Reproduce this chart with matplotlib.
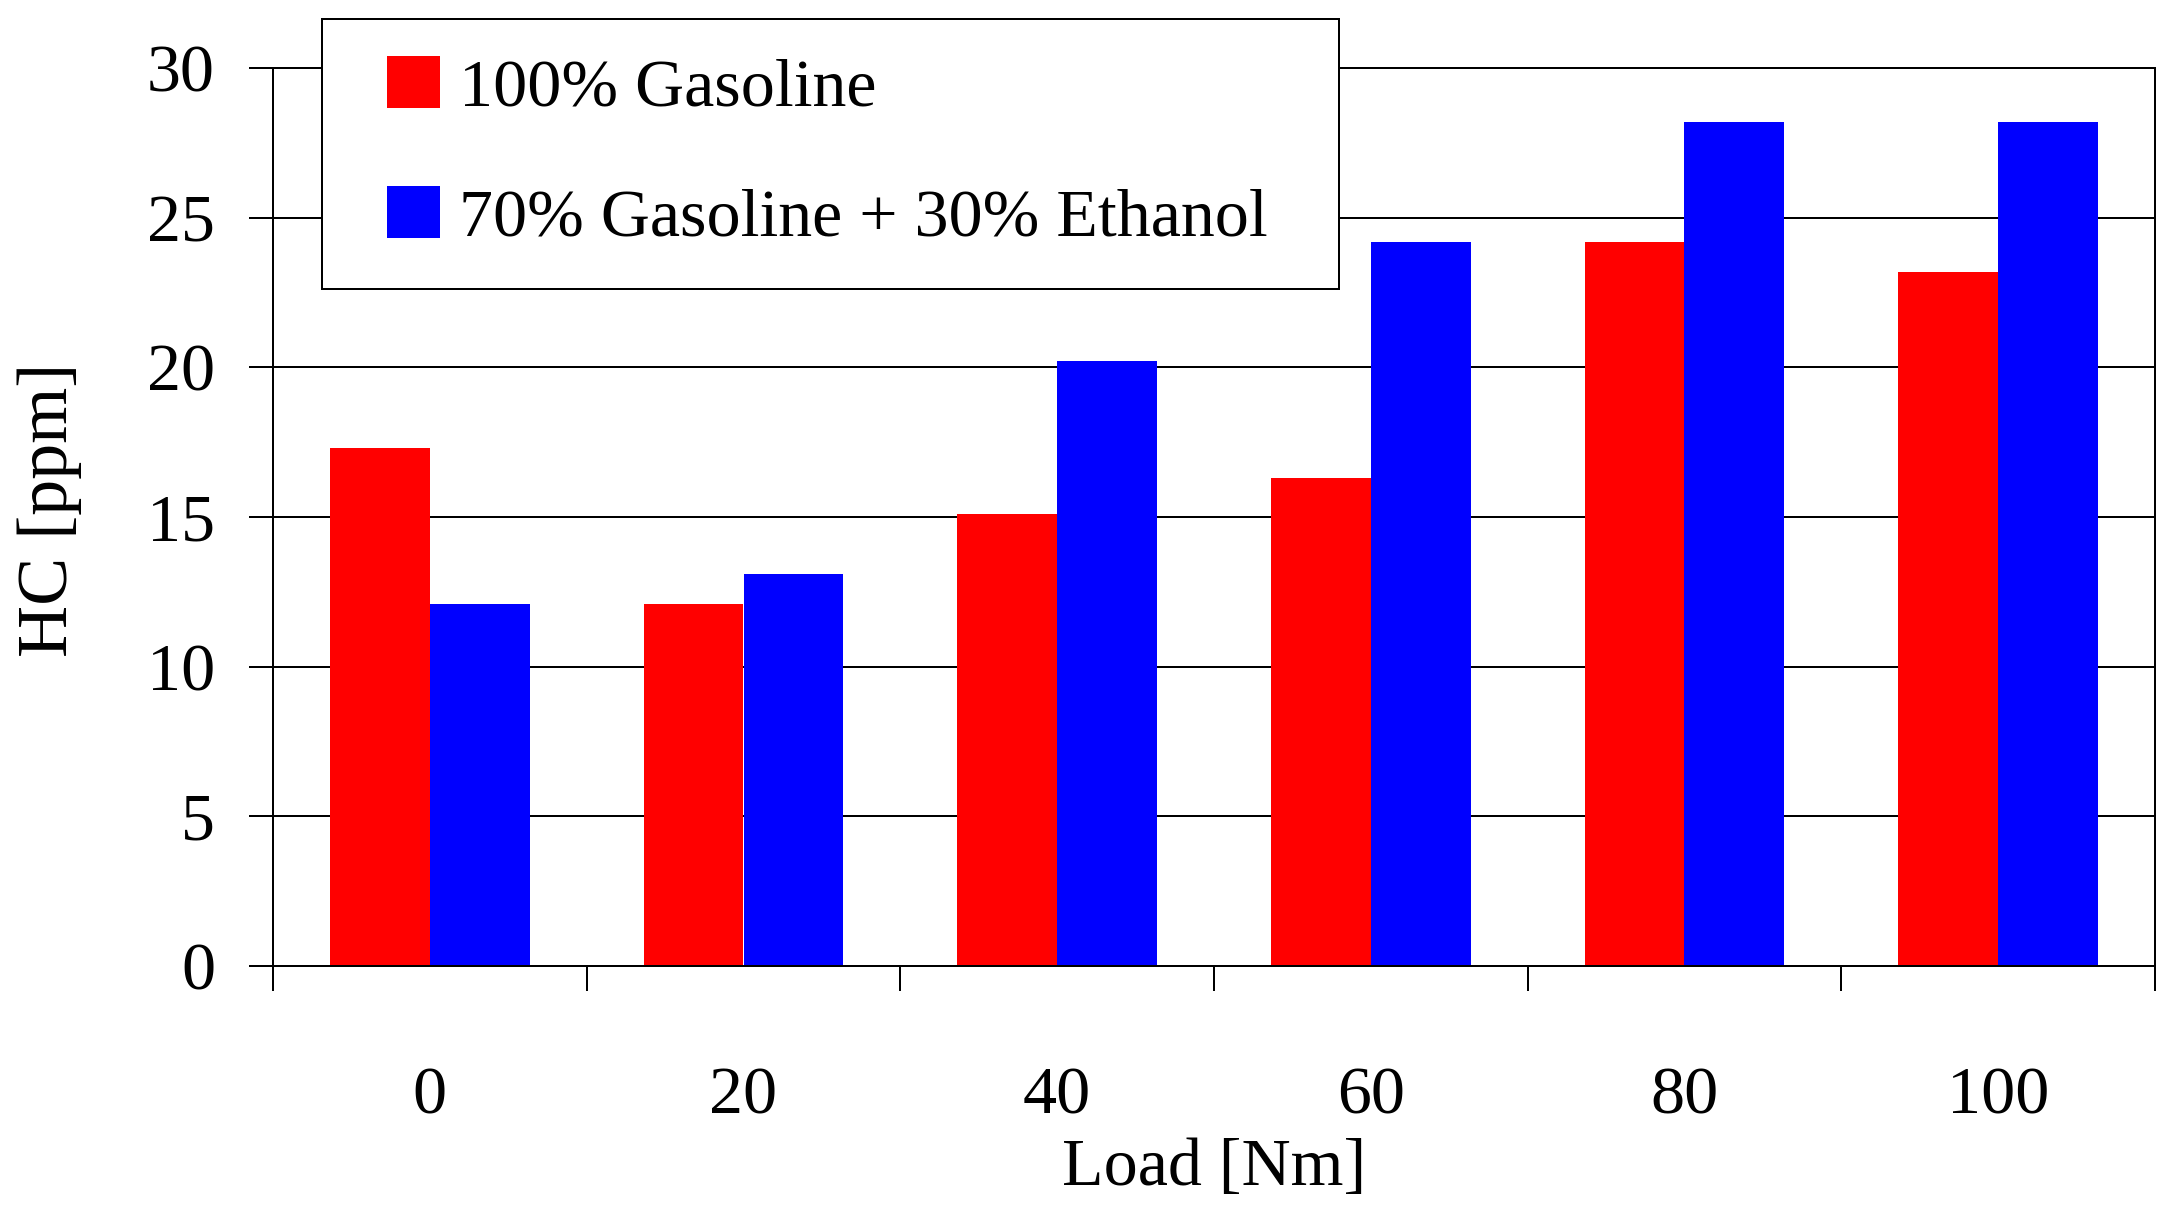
import matplotlib
matplotlib.use("Agg")
import matplotlib.pyplot as plt
from matplotlib.patches import Rectangle
import numpy as np

loads = ["0", "20", "40", "60", "80", "100"]
gasoline = [17.3, 12.1, 15.1, 16.3, 24.2, 23.2]
blend = [12.1, 13.1, 20.2, 24.2, 28.2, 28.2]
series_names = ["100% Gasoline", "70% Gasoline + 30% Ethanol"]
yticks = [0, 5, 10, 15, 20, 25, 30]

W, H = 2176, 1215
DPI = 72
plt.rcParams['font.family'] = ['Liberation Serif', 'DejaVu Serif']
fs = 68

fig = plt.figure(figsize=(W / DPI, H / DPI), dpi=DPI)
ax = fig.add_axes([273 / W, 1 - 966 / H, (2155 - 273) / W, (966 - 68) / H])

x = np.arange(len(loads))
w = 0.318
ax.bar(x - w / 2, gasoline, width=w, color="#FF0000", label=series_names[0], zorder=2)
ax.bar(x + w / 2, blend, width=w, color="#0000FF", label=series_names[1], zorder=2)

ax.set_xlim(-0.5, len(loads) - 0.5)
ax.set_ylim(0, 30)
ax.set_yticks(yticks)
ax.set_yticklabels([str(v) for v in yticks])
ax.set_xticks(x)
ax.set_xticklabels(loads)
ax.set_xticks(np.arange(len(loads) + 1) - 0.5, minor=True)

ax.tick_params(axis='x', which='major', length=0, pad=101, labelsize=fs)
ax.tick_params(axis='x', which='minor', length=25, width=2, direction='out')
ax.tick_params(axis='y', which='major', length=24, width=2, direction='out', pad=34, labelsize=fs)

ax.yaxis.grid(True, color='black', linewidth=2)
ax.set_axisbelow(True)
for s in ax.spines.values():
    s.set_color('black')
    s.set_linewidth(2)

fig.text(0.5 * (273 + 2155) / W, 1 - 1168 / H, "Load [Nm]", ha='center', va='center', fontsize=fs)
fig.text(49 / W, 1 - 510 / H, "HC [ppm]", ha='center', va='center', rotation=90, fontsize=fs + 4)

# legend frame
frame = Rectangle((322 / W, 1 - 289 / H), (1339 - 322) / W, (289 - 19) / H,
                  transform=fig.transFigure, facecolor='white', edgecolor='black',
                  linewidth=2, zorder=3, clip_on=False)
ax.add_patch(frame)

leg = ax.legend(loc='upper left', bbox_to_anchor=(387 / W, 1 - 56 / H),
                bbox_transform=fig.transFigure, borderaxespad=0,
                fontsize=fs, frameon=False,
                handlelength=0.78, handleheight=0.8, handletextpad=0.28,
                labelspacing=0.98, borderpad=0)
leg.set_zorder(4)

fig.savefig("out.png", dpi=DPI)
